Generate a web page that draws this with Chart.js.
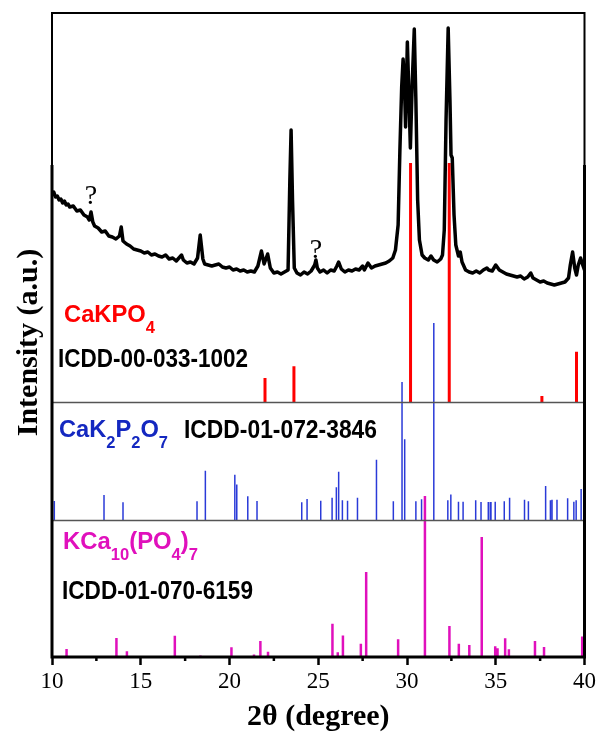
<!DOCTYPE html>
<html>
<head>
<meta charset="utf-8">
<script src="https://cdn.jsdelivr.net/npm/chart.js@4.4.0/dist/chart.umd.min.js"></script>
<style>
  html, body { margin: 0; padding: 0; background: #fff; }
</style>
</head>
<body>
<canvas id="xrd" width="599" height="735"></canvas>
<script>
// measured pattern: 2θ (degree) and intensity (a.u.)
const twoTheta = [
  10.0, 10.1, 10.2, 10.3, 10.4, 10.5, 10.6, 10.7, 10.8, 10.9,
  11.0, 11.2, 11.4, 11.6, 11.8, 12.0, 12.1, 12.2, 12.3, 12.4,
  12.6, 12.8, 13.0, 13.2, 13.4, 13.6, 13.8, 13.9, 14.0, 14.2,
  14.4, 14.6, 14.8, 15.0, 15.2, 15.4, 15.6, 15.8, 16.0, 16.2,
  16.4, 16.6, 16.8, 17.0, 17.2, 17.3, 17.4, 17.6, 17.8, 18.0,
  18.2, 18.35, 18.5, 18.6, 18.8, 19.0, 19.2, 19.4, 19.6, 19.8,
  20.0, 20.2, 20.4, 20.6, 20.8, 21.0, 21.2, 21.4, 21.6, 21.8,
  21.95, 22.15, 22.3, 22.5, 22.7, 22.9, 23.1, 23.3, 23.4, 23.47,
  23.55, 23.65, 23.8, 24.0, 24.2, 24.4, 24.6, 24.8, 24.87, 24.95,
  25.1, 25.3, 25.5, 25.7, 25.9, 26.05, 26.15, 26.3, 26.5, 26.7,
  26.9, 27.1, 27.3, 27.5, 27.6, 27.8, 28.0, 28.2, 28.4, 28.6,
  28.8, 29.0, 29.2, 29.35, 29.5, 29.6, 29.7, 29.78, 29.85, 29.92,
  30.02, 30.1, 30.19, 30.3, 30.41, 30.5, 30.6, 30.7, 30.85, 31.0,
  31.2, 31.35, 31.5, 31.7, 31.9, 32.0, 32.1, 32.2, 32.32, 32.42,
  32.48, 32.55, 32.65, 32.75, 32.9, 33.0, 33.1, 33.3, 33.5, 33.7,
  33.9, 34.1, 34.3, 34.5, 34.6, 34.8, 35.0, 35.2, 35.4, 35.6,
  35.8, 36.0, 36.2, 36.4, 36.6, 36.8, 36.97, 37.1, 37.3, 37.5,
  37.7, 37.9, 38.1, 38.3, 38.5, 38.7, 38.9, 39.1, 39.2, 39.33,
  39.45, 39.55, 39.65, 39.78, 39.9, 40.0
];
const intensity = [
  207, 210, 205, 206, 202, 203, 199, 201, 197, 198,
  195, 196, 191, 192, 187, 185, 182, 190, 180, 176,
  174, 170, 171, 166, 165, 163, 166, 175, 161, 158,
  156, 153, 152, 151, 149, 150, 147, 148, 146, 145,
  147, 143, 144, 141, 145, 147, 142, 139, 140, 138,
  144, 167, 143, 138, 137, 136, 137, 138, 135, 134,
  135, 132, 133, 131, 132, 130, 131, 130, 136, 151,
  138, 148, 134, 129, 130, 128, 130, 132, 222, 272,
  202, 134, 129, 127, 130, 128, 131, 137, 142, 134,
  130, 132, 129, 132, 131, 136, 140, 133, 130, 132,
  131, 133, 132, 136, 132, 139, 134, 136, 137, 138,
  139, 141, 144, 152, 177, 252, 315, 343, 322, 275,
  360, 312, 254, 322, 373, 302, 202, 162, 147, 144,
  142, 146, 142, 140, 143, 147, 172, 282, 374, 302,
  247, 244, 187, 157, 146, 150, 140, 132, 130, 129,
  131, 129, 132, 134, 132, 131, 137, 132, 130, 128,
  127, 126, 125, 126, 123, 125, 129, 124, 122, 120,
  121, 119, 118, 117, 118, 119, 120, 124, 137, 150,
  134, 127, 137, 144, 137, 132
];

// CaKPO4, ICDD-00-033-1002 (2θ, relative intensity %)
const cakpoPos = [22.0, 23.63, 30.2, 32.38, 37.6, 39.55];
const cakpoRel = [10, 15, 100, 100, 2.5, 21];

// CaK2P2O7, ICDD-01-072-3846
const cak2Pos = [
  10.13, 12.93, 14.0, 18.17, 18.64, 20.3, 20.41, 21.03, 21.55, 24.07,
  24.37, 25.14, 25.78, 26.02, 26.15, 26.36, 26.65, 27.21, 28.28, 29.23,
  29.72, 29.87, 30.5, 30.82, 31.51, 32.3, 32.47, 32.9, 33.16, 33.87,
  34.17, 34.58, 34.69, 34.73, 34.97, 35.48, 35.78, 36.62, 36.84, 37.81,
  38.08, 38.17, 38.45, 39.05, 39.4, 39.53, 39.81
];
const cak2Rel = [
  9.6, 12.7, 9, 9.5, 25, 23, 18, 12, 9.6, 9,
  10.6, 9.8, 11.3, 16.6, 24.5, 10, 9.8, 11.3, 30.6, 9.5,
  70, 41, 9.5, 10.5, 100, 10, 12.9, 9.3, 9.3, 10,
  9.1, 9.1, 9.1, 9.1, 9.3, 9.5, 11.3, 10.3, 9.5, 17.3,
  10, 10.3, 10.3, 11, 9.3, 10, 15.7
];

// KCa10(PO4)7, ICDD-01-070-6159
const kcaPos = [
  10.82, 13.63, 14.22, 16.92, 18.36, 20.11, 21.38, 21.74, 22.17, 25.8,
  26.1, 26.39, 27.4, 27.7, 29.5, 31.01, 32.39, 32.92, 33.51, 34.21,
  34.97, 35.1, 35.53, 35.74, 37.21, 37.72, 39.87
];
const kcaRel = [
  5, 11.8, 3.5, 13.2, 1, 6, 1.5, 10, 3.3, 20.7,
  2.9, 13.3, 8.3, 52.8, 11, 100, 19.3, 8.3, 7.5, 74.5,
  6.6, 5.4, 11.6, 4.8, 10, 6.2, 12.8
];

const xTicks = [10, 15, 20, 25, 30, 35, 40];
const xMinorTicks = [12.5, 17.5, 22.5, 27.5, 32.5, 37.5];

// panel layout in axis units (y axis spans 0..644)
const Y_MAX = 644;
const TOP_BASE = 255, TOP_FULL = 239;   // pattern + CaKPO4 panel
const MID_BASE = 137, MID_FULL = 197;   // CaK2P2O7 panel
const BOT_BASE = 0, BOT_FULL = 161;     // KCa10(PO4)7 panel

const serif = '"Liberation Serif", "Times New Roman", serif';
const sans = '"Liberation Sans", Arial, sans-serif';

function sticks(pos, rel, base, full) {
  const pts = [];
  pos.forEach((p, i) => {
    pts.push({ x: p, y: base }, { x: p, y: base + rel[i] / 100 * full }, { x: p, y: null });
  });
  return pts;
}

// text with subscripts, squeezed to a given width
function richText(ctx, parts, x, y, size, color, width) {
  const font = sub => `bold ${sub ? Math.round(size * 0.7) : size}px ${sans}`;
  let natural = 0;
  parts.forEach(([t, sub]) => { ctx.font = font(sub); natural += ctx.measureText(t).width; });
  ctx.save();
  ctx.translate(x, y);
  ctx.scale(width / natural, 1);
  ctx.fillStyle = color;
  ctx.textBaseline = 'alphabetic';
  ctx.textAlign = 'left';
  let cx = 0;
  parts.forEach(([t, sub]) => {
    ctx.font = font(sub);
    ctx.fillText(t, cx, sub ? size * 0.46 : 0);
    cx += ctx.measureText(t).width;
  });
  ctx.restore();
}

const decorPlugin = {
  id: 'decor',
  afterDatasetsDraw(chart) {
    const { ctx, chartArea: a, scales: { x, y } } = chart;
    ctx.save();
    // panel separators
    ctx.strokeStyle = '#555';
    ctx.lineWidth = 1.5;
    [TOP_BASE, MID_BASE].forEach(v => {
      const py = Math.round(y.getPixelForValue(v)) + 0.5;
      ctx.beginPath(); ctx.moveTo(a.left, py); ctx.lineTo(a.right, py); ctx.stroke();
    });
    // frame
    ctx.strokeStyle = '#000';
    ctx.lineWidth = 2;
    ctx.beginPath();
    ctx.moveTo(a.left, 165); ctx.lineTo(a.left, a.top); ctx.lineTo(a.right, a.top); ctx.lineTo(a.right, 165);
    ctx.stroke();
    ctx.lineWidth = 3;
    ctx.beginPath();
    ctx.moveTo(a.left, 165); ctx.lineTo(a.left, a.bottom); ctx.lineTo(a.right, a.bottom); ctx.lineTo(a.right, 165);
    ctx.stroke();
    // minor ticks
    ctx.lineWidth = 2.5;
    xMinorTicks.forEach(v => {
      const px = x.getPixelForValue(v);
      ctx.beginPath(); ctx.moveTo(px, a.bottom); ctx.lineTo(px, a.bottom + 4); ctx.stroke();
    });
    // question marks on unassigned peaks
    ctx.fillStyle = '#000';
    ctx.font = `28px ${serif}`;
    ctx.textAlign = 'center';
    ctx.textBaseline = 'alphabetic';
    ctx.fillText('?', x.getPixelForValue(12.2), 204);
    ctx.fillText('?', x.getPixelForValue(24.87), 258);
    // phase labels
    richText(ctx, [['CaKPO', 0], ['4', 1]], 64, 322, 23, '#ff0000', 91);
    richText(ctx, [['ICDD-00-033-1002', 0]], 58, 367, 25, '#000', 190);
    richText(ctx, [['CaK', 0], ['2', 1], ['P', 0], ['2', 1], ['O', 0], ['7', 1]], 59, 437, 23, '#1428c0', 109);
    richText(ctx, [['ICDD-01-072-3846', 0]], 184, 438, 25, '#000', 193);
    richText(ctx, [['KCa', 0], ['10', 1], ['(PO', 0], ['4', 1], [')', 0], ['7', 1]], 63, 549, 23, '#e010bc', 135);
    richText(ctx, [['ICDD-01-070-6159', 0]], 62, 599, 25, '#000', 191);
    ctx.restore();
  }
};

new Chart(document.getElementById('xrd'), {
  type: 'line',
  data: {
    datasets: [
      {
        label: 'sample',
        data: twoTheta.map((t, i) => ({ x: t, y: TOP_BASE + intensity[i] })),
        borderColor: '#000',
        borderWidth: 3.5,
        borderJoinStyle: 'round',
        borderCapStyle: 'round',
        pointRadius: 0,
        tension: 0
      },
      {
        label: 'CaKPO4',
        data: sticks(cakpoPos, cakpoRel, TOP_BASE, TOP_FULL),
        borderColor: '#ff0000',
        borderWidth: 3,
        pointRadius: 0,
        spanGaps: false,
        borderCapStyle: 'butt'
      },
      {
        label: 'CaK2P2O7',
        data: sticks(cak2Pos, cak2Rel, MID_BASE, MID_FULL),
        borderColor: '#2a3ad8',
        borderWidth: 1.5,
        pointRadius: 0,
        spanGaps: false,
        borderCapStyle: 'butt'
      },
      {
        label: 'KCa10(PO4)7',
        data: sticks(kcaPos, kcaRel, BOT_BASE, BOT_FULL),
        borderColor: '#e010bc',
        borderWidth: 2.5,
        pointRadius: 0,
        spanGaps: false,
        borderCapStyle: 'butt'
      }
    ]
  },
  options: {
    responsive: false,
    animation: false,
    devicePixelRatio: 1,
    layout: { padding: { top: 13, right: 12, left: 0, bottom: 0 } },
    plugins: { legend: { display: false }, tooltip: { enabled: false } },
    scales: {
      x: {
        type: 'linear',
        min: 10,
        max: 40,
        afterBuildTicks(s) { s.ticks = xTicks.map(v => ({ value: v })); },
        afterFit(s) { s.height = 78; },
        ticks: { font: { family: serif, size: 23 }, color: '#000', padding: 3, maxRotation: 0, autoSkip: false },
        grid: { drawOnChartArea: false, drawTicks: true, tickLength: 8, tickWidth: 2.5, tickColor: '#000' },
        border: { display: false },
        title: {
          display: true,
          text: '2θ (degree)',
          color: '#000',
          font: { family: serif, size: 30, weight: 'bold' },
          padding: { top: -6, bottom: 0 }
        }
      },
      y: {
        min: 0,
        max: Y_MAX,
        afterFit(s) { s.width = 52; },
        ticks: { display: false },
        grid: { display: false },
        border: { display: false },
        title: {
          display: true,
          text: 'Intensity (a.u.)\u2002',
          color: '#000',
          font: { family: serif, size: 30, weight: 'bold' },
          padding: { top: 11, bottom: 0 }
        }
      }
    }
  },
  plugins: [decorPlugin]
});
</script>
</body>
</html>
